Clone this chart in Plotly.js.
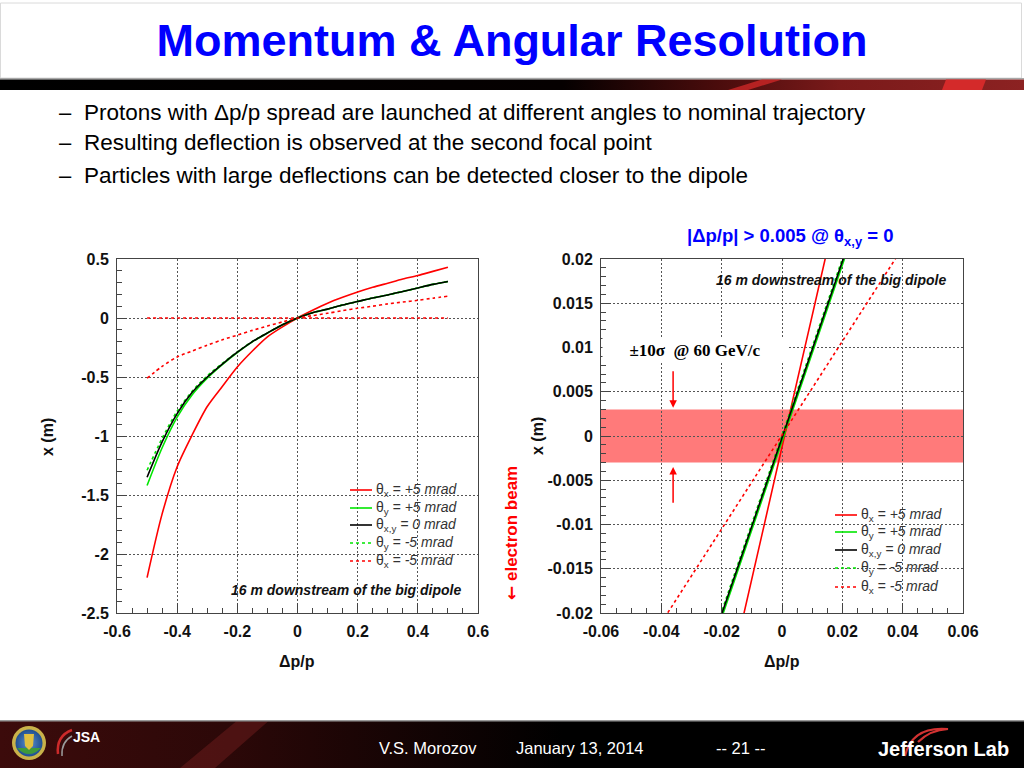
<!DOCTYPE html>
<html><head><meta charset="utf-8">
<script src="https://cdn.plot.ly/plotly-3.0.1.min.js"></script>
<style>html,body{margin:0;padding:0;background:#fff;overflow:hidden}#chart{width:1024px;height:768px}</style>
</head><body><div id="chart"></div>
<script>
// ---------- data: left panel (x vs dp/p over the full range) ----------
const dpLeft = [-0.5,-0.45,-0.4,-0.35,-0.3,-0.25,-0.2,-0.15,-0.1,-0.05,0,0.05,0.1,0.15,0.2,0.25,0.3,0.35,0.4,0.45,0.5];
const xLeftThetaXPlus  = [-2.2,-1.66,-1.26,-0.99,-0.75,-0.58,-0.415,-0.28,-0.16,-0.075,0,0.065,0.125,0.175,0.22,0.26,0.295,0.33,0.36,0.395,0.43];
const xLeftThetaYPlus  = [-1.42,-1.10,-0.84,-0.65,-0.51,-0.395,-0.293,-0.202,-0.128,-0.058,0,0.045,0.075,0.11,0.14,0.17,0.195,0.225,0.255,0.285,0.31];
const xLeftThetaZero   = [-1.35,-1.05,-0.81,-0.63,-0.50,-0.39,-0.29,-0.20,-0.127,-0.058,0,0.045,0.075,0.11,0.14,0.17,0.195,0.225,0.255,0.285,0.31];
const xLeftThetaYMinus = [-1.29,-1.02,-0.79,-0.62,-0.49,-0.385,-0.287,-0.198,-0.126,-0.057,0,0.045,0.075,0.11,0.14,0.17,0.195,0.225,0.255,0.285,0.31];
const xLeftThetaXMinus = [-0.51,-0.41,-0.33,-0.28,-0.23,-0.185,-0.145,-0.105,-0.068,-0.033,0,0.02,0.04,0.062,0.083,0.10,0.12,0.135,0.15,0.168,0.185];
const dpLeftRef = [-0.5,0.5];
const xLeftRef  = [0,0];

// ---------- data: right panel (zoom near dp/p = 0) ----------
const dpRightSteep = [-0.025,-0.02,-0.015,-0.01,-0.005,0,0.005,0.01,0.015,0.02,0.025];
const xRightThetaXPlus  = [-0.0385,-0.0310,-0.0236,-0.0161,-0.0087,-0.0013,0.0062,0.0136,0.0210,0.0285,0.0359];
const xRightThetaYPlus  = [-0.0255,-0.0206,-0.0156,-0.0106,-0.0056,-0.0006,0.0044,0.0094,0.0144,0.0194,0.0243];
const xRightThetaZero   = [-0.0251,-0.0202,-0.0152,-0.0102,-0.0052,-0.0002,0.0048,0.0098,0.0148,0.0198,0.0247];
const xRightThetaYMinus = [-0.0248,-0.0199,-0.0149,-0.0099,-0.0049,0.0001,0.0051,0.0101,0.0151,0.0201,0.0250];
const dpRightWide = [-0.04,-0.03,-0.02,-0.01,0,0.01,0.02,0.03,0.04];
const xRightThetaXMinus = [-0.0211,-0.0158,-0.0105,-0.0052,0.0001,0.0054,0.0107,0.0160,0.0213];
const bandLimits = [-0.003, 0.003];          // +-10 sigma band
const arrowDp = -0.0361;
const arrowTop = [0.0075, 0.0032];           // tail, head
const arrowBottom = [-0.0077, -0.0035];      // tail, head

// ---------- tick labels ----------
const leftXTicks = [-0.6,-0.4,-0.2,0,0.2,0.4,0.6];
const leftXTickText = ['-0.6','-0.4','-0.2','0','0.2','0.4','0.6'];
const leftYTicks = [0.5,0,-0.5,-1,-1.5,-2,-2.5];
const leftYTickText = ['0.5','0','-0.5','-1','-1.5','-2','-2.5'];
const rightXTicks = [-0.06,-0.04,-0.02,0,0.02,0.04,0.06];
const rightXTickText = ['-0.06','-0.04','-0.02','0','0.02','0.04','0.06'];
const rightYTicks = [0.02,0.015,0.01,0.005,0,-0.005,-0.01,-0.015,-0.02];
const rightYTickText = ['0.02','0.015','0.01','0.005','0','-0.005','-0.01','-0.015','-0.02'];

const legendNames = [
  'θ<sub>x</sub> <i>= +5 mrad</i>',
  'θ<sub>y</sub> <i>= +5 mrad</i>',
  'θ<sub>x,y</sub> <i>= 0 mrad</i>',
  'θ<sub>y</sub> <i>= -5 mrad</i>',
  'θ<sub>x</sub> <i>= -5 mrad</i>'
];

// ---------- helpers ----------
const px = v => v/1024;
const py = v => 1 - v/768;
const RED = '#ff0000', GREEN = '#00e600', BLACK = '#000000';
const FONT = 'Liberation Sans, Arial, sans-serif';
const legendColors = [RED, GREEN, BLACK, GREEN, RED];
const legendDashes = ['solid','solid','solid','dot','dot'];

function mk(xs, ys, color, dash, name, axes, smooth){
  return {x: xs, y: ys, type:'scatter', mode:'lines', name: name,
    line:{color: color, width: 1.6, dash: dash, shape: smooth ? 'spline' : 'linear', smoothing: 0.8},
    xaxis: axes[0], yaxis: axes[1], showlegend: false, hoverinfo:'skip'};
}
const L = ['x','y'], R = ['x2','y2'];
const traces = [
  mk(dpLeftRef, xLeftRef, RED, 'dot', 'reference', L, false),
  mk(dpLeft, xLeftThetaXPlus, RED, 'solid', legendNames[0], L, true),
  mk(dpLeft, xLeftThetaYPlus, GREEN, 'solid', legendNames[1], L, true),
  mk(dpLeft, xLeftThetaYMinus, GREEN, 'dot', legendNames[3], L, true),
  mk(dpLeft, xLeftThetaZero, BLACK, 'solid', legendNames[2], L, true),
  mk(dpLeft, xLeftThetaXMinus, RED, 'dot', legendNames[4], L, true),
  mk(dpRightSteep, xRightThetaXPlus, RED, 'solid', legendNames[0], R, false),
  mk(dpRightSteep, xRightThetaYPlus, GREEN, 'solid', legendNames[1], R, false),
  mk(dpRightSteep, xRightThetaYMinus, GREEN, 'dot', legendNames[3], R, false),
  mk(dpRightSteep, xRightThetaZero, BLACK, 'solid', legendNames[2], R, false),
  mk(dpRightWide, xRightThetaXMinus, RED, 'dot', legendNames[4], R, false)
];

const tickFont = {family: FONT, size: 16, color:'#111', weight:'bold'};
const titleFont = {family: FONT, size: 16, color:'#111', weight:'bold'};
function axis(domain, range, tv, tt, minorD, anchor){
  return {domain: domain, range: range, anchor: anchor, tickmode:'array', tickvals: tv, ticktext: tt,
    showline:true, mirror:true, linecolor:'#444', linewidth:1,
    ticks:'inside', ticklen:10, tickwidth:1, tickcolor:'#444',
    minor:{tickmode:'linear', dtick: minorD, tick0: 0, ticks:'inside', ticklen:5, tickcolor:'#444', showgrid:false},
    showgrid:true, gridcolor:'#555', gridwidth:1, griddash:'2px,2px', zeroline:false,
    tickfont: tickFont, ticklabelstandoff: 4, automargin:false, fixedrange:true};
}
const yDom = [py(613), py(259)];

// ---------- decorative SVG strips (header bar & footer) ----------
const headerSvg = '<svg xmlns="http://www.w3.org/2000/svg" width="1024" height="12" viewBox="0 0 1024 12" preserveAspectRatio="none">' +
 '<defs><linearGradient id="g" x1="0" x2="1" y1="0" y2="0"><stop offset="0" stop-color="#000"/><stop offset="0.55" stop-color="#050000"/>' +
 '<stop offset="0.70" stop-color="#4a0c0c"/><stop offset="0.82" stop-color="#7a1a1a"/><stop offset="1" stop-color="#8c2222"/></linearGradient></defs>' +
 '<rect x="0" y="0" width="1024" height="1.5" fill="#a8a8a8"/>' +
 '<rect x="0" y="1.5" width="1024" height="10.5" fill="url(#g)"/>' +
 '<polygon points="728,12 748,12 782,1.5 762,1.5" fill="#c62626" opacity="0.85"/>' +
 '<polygon points="942,12 982,12 986,1.5 946,1.5" fill="#d42a2a"/>' +
 '</svg>';
const footerSvg = '<svg xmlns="http://www.w3.org/2000/svg" width="1024" height="48" viewBox="0 0 1024 48" preserveAspectRatio="none">' +
 '<defs><linearGradient id="f" x1="0" x2="1" y1="0" y2="0"><stop offset="0" stop-color="#3c0b0b"/><stop offset="0.22" stop-color="#2c0808"/>' +
 '<stop offset="0.55" stop-color="#000"/><stop offset="1" stop-color="#000"/></linearGradient>' +
 '<radialGradient id="s" cx="0.5" cy="0.5" r="0.5"><stop offset="0" stop-color="#5b8fd0"/><stop offset="1" stop-color="#1f4f8f"/></radialGradient></defs>' +
 '<rect x="0" y="0" width="1024" height="48" fill="url(#f)"/>' +
 '<polygon points="180,48 215,48 268,1.5 236,1.5" fill="#6a1c1c" opacity="0.55"/>' +
 '<rect x="0" y="0" width="1024" height="1.5" fill="#9a9a9a"/>' +
 '<circle cx="29" cy="23" r="17" fill="#c9b24a"/>' +
 '<circle cx="29" cy="23" r="13.5" fill="url(#s)"/>' +
 '<path d="M17,28 Q29,40 41,28 Z" fill="#3f9a3a"/>' +
 '<path d="M24,14 L34,14 L33,26 L29,30 L25,26 Z" fill="#e0c040"/>' +
 '<path d="M58,34 Q56,16 72,10" stroke="#cc2a2a" stroke-width="2.5" fill="none"/>' +
 '<path d="M62,36 Q61,22 72,16" stroke="#9a9a9a" stroke-width="1.5" fill="none"/>' +
 '<path d="M905,36 Q912,6 948,9 Q930,10 918,22" stroke="#d23232" stroke-width="2.2" fill="none"/>' +
 '</svg>';
const enc = s => 'data:image/svg+xml;base64,' + btoa(s);

const bullets = [
  'Protons with Δp/p spread are launched at different angles to nominal trajectory',
  'Resulting deflection is observed at the second focal point',
  'Particles with large deflections can be detected closer to the dipole'
];
const bulletY = [113, 143, 176];

const annotations = [];
const shapes = [
  {type:'rect', xref:'x2 domain', yref:'y2', x0:0, x1:1, y0:bandLimits[0], y1:bandLimits[1],
   fillcolor:'rgba(255,0,0,0.52)', line:{width:0}, layer:'below'},
  {type:'rect', xref:'paper', yref:'paper', x0:px(0.5), x1:px(1021.5), y0:py(78), y1:py(3),
   line:{color:'#dadada', width:1}, layer:'below'}
];
bullets.forEach((t,i) => {
  annotations.push({xref:'paper', yref:'paper', x:px(57), y:py(bulletY[i]), xanchor:'left', yanchor:'middle', showarrow:false,
    text:'–', font:{family:FONT, size:22, color:'#000'}});
  annotations.push({xref:'paper', yref:'paper', x:px(82), y:py(bulletY[i]), xanchor:'left', yanchor:'middle', showarrow:false,
    text:t, font:{family:FONT, size:22.5, color:'#000'}});
});

// hand-built legends (one per panel)
function addLegend(lineX0, lineX1, textX, ys){
  ys.forEach((yy,i) => {
    shapes.push({type:'line', xref:'paper', yref:'paper', x0:px(lineX0), x1:px(lineX1), y0:py(yy), y1:py(yy),
      line:{color: legendColors[i], width:1.6, dash: legendDashes[i]}});
    annotations.push({xref:'paper', yref:'paper', x:px(textX), y:py(yy), xanchor:'left', yanchor:'middle', showarrow:false,
      text: legendNames[i], font:{family:FONT, size:14, color:'#333'}});
  });
}
addLegend(350, 372, 374, [490, 508, 525, 543, 561]);
addLegend(835, 857, 859, [515, 532, 550, 568, 587]);

// axis titles
function axTitle(x, y, text, angle){
  annotations.push({xref:'paper', yref:'paper', x:px(x), y:py(y), xanchor:'center', yanchor:'middle', showarrow:false,
    textangle: angle, text:'<b>'+text+'</b>', font: titleFont});
}
axTitle(297, 661, 'Δp/p', 0);
axTitle(782, 661, 'Δp/p', 0);
axTitle(47, 437, 'x (m)', -90);
axTitle(537, 436, 'x (m)', -90);

annotations.push(
  {xref:'paper', yref:'paper', x:px(790), y:py(237), xanchor:'center', yanchor:'middle', showarrow:false,
   text:'<b>|Δp/p| > 0.005 @ θ<sub>x,y</sub> = 0</b>', font:{family:FONT, size:18.5, color:'#0000ff'}},
  {xref:'paper', yref:'paper', x:px(346), y:py(590), xanchor:'center', yanchor:'middle', showarrow:false,
   text:'<b><i>16 m downstream of the big dipole</i></b>', font:{family:FONT, size:14, color:'#111'}},
  {xref:'paper', yref:'paper', x:px(831), y:py(280), xanchor:'center', yanchor:'middle', showarrow:false,
   text:'<b><i>16 m downstream of the big dipole</i></b>', font:{family:FONT, size:14, color:'#111'}},
  {xref:'paper', yref:'paper', x:px(695), y:py(350), xanchor:'center', yanchor:'middle', showarrow:false,
   text:'<b>±10σ  @ 60 GeV/c</b>', font:{family:'Liberation Serif, Times New Roman, serif', size:17, color:'#000'},
   bgcolor:'#ffffff', width:184, height:24, borderpad:0},
  {xref:'x2', yref:'y2', x:arrowDp, y:arrowTop[1], axref:'x2', ayref:'y2', ax:arrowDp, ay:arrowTop[0],
   showarrow:true, arrowhead:2, arrowsize:1, arrowwidth:1.5, arrowcolor:RED, text:''},
  {xref:'x2', yref:'y2', x:arrowDp, y:arrowBottom[1], axref:'x2', ayref:'y2', ax:arrowDp, ay:arrowBottom[0],
   showarrow:true, arrowhead:2, arrowsize:1, arrowwidth:1.5, arrowcolor:RED, text:''},
  {xref:'paper', yref:'paper', x:px(511), y:py(533), xanchor:'center', yanchor:'middle', showarrow:false, textangle:-90,
   text:'<b><span style="font-family:DejaVu Sans">←</span> electron beam</b>', font:{family:FONT, size:17, color:'#ff0000'}},
  // footer
  {xref:'paper', yref:'paper', x:px(86), y:py(737), xanchor:'center', yanchor:'middle', showarrow:false,
   text:'<b>JSA</b>', font:{family:FONT, size:14, color:'#ffffff'}},
  {xref:'paper', yref:'paper', x:px(428), y:py(748), xanchor:'center', yanchor:'middle', showarrow:false,
   text:'V.S. Morozov', font:{family:FONT, size:16.5, color:'#ffffff'}},
  {xref:'paper', yref:'paper', x:px(580), y:py(748), xanchor:'center', yanchor:'middle', showarrow:false,
   text:'January 13, 2014', font:{family:FONT, size:16.5, color:'#ffffff'}},
  {xref:'paper', yref:'paper', x:px(741), y:py(748), xanchor:'center', yanchor:'middle', showarrow:false,
   text:'-- 21 --', font:{family:FONT, size:16.5, color:'#ffffff'}},
  {xref:'paper', yref:'paper', x:px(943), y:py(749), xanchor:'center', yanchor:'middle', showarrow:false,
   text:'<b>Jefferson Lab</b>', font:{family:FONT, size:20, color:'#ffffff'}}
);

const layout = {
  width:1024, height:768, margin:{l:0,r:0,t:0,b:0,pad:0},
  paper_bgcolor:'#ffffff', plot_bgcolor:'#ffffff', showlegend:false,
  title:{text:'<b>Momentum &amp; Angular Resolution</b>', font:{family:FONT, size:45, color:'#0000ff'},
         x:0.5, xanchor:'center', xref:'paper', y:py(40), yref:'container', yanchor:'middle'},
  xaxis: axis([px(117), px(478)], [-0.6,0.6], leftXTicks, leftXTickText, 0.05, 'y'),
  yaxis: axis(yDom, [-2.5,0.5], leftYTicks, leftYTickText, 0.1, 'x'),
  xaxis2: axis([px(601), px(963)], [-0.06,0.06], rightXTicks, rightXTickText, 0.005, 'y2'),
  yaxis2: axis(yDom, [-0.02,0.02], rightYTicks, rightYTickText, 0.001, 'x2'),
  shapes: shapes,
  images:[
    {source: enc(headerSvg), xref:'paper', yref:'paper', x:0, y:py(78), sizex:1, sizey:12/768,
     xanchor:'left', yanchor:'top', sizing:'stretch', layer:'above'},
    {source: enc(footerSvg), xref:'paper', yref:'paper', x:0, y:py(720), sizex:1, sizey:48/768,
     xanchor:'left', yanchor:'top', sizing:'stretch', layer:'below'}
  ],
  annotations: annotations
};
Plotly.newPlot('chart', traces, layout, {staticPlot:true, displayModeBar:false});
</script></body></html>
